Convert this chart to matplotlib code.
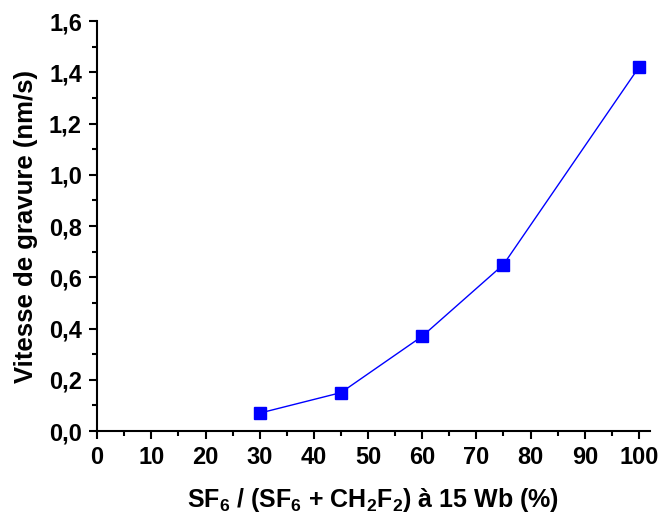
import matplotlib
matplotlib.use("Agg")
import matplotlib.pyplot as plt
from matplotlib.ticker import MultipleLocator, FuncFormatter

plt.rcParams['font.family'] = ['Liberation Sans', 'DejaVu Sans']
plt.rcParams['font.weight'] = 'bold'
plt.rcParams['mathtext.fontset'] = 'custom'
plt.rcParams['mathtext.rm'] = 'Liberation Sans:bold'
plt.rcParams['mathtext.default'] = 'rm'

# --- Donnees ---
sf6_ratio = [30, 45, 60, 75, 100]
vitesse = [0.07, 0.15, 0.37, 0.65, 1.42]

fig = plt.figure(figsize=(6.61, 5.15), dpi=100)
ax = fig.add_axes([0.147, 0.163, 0.836, 0.796])

ax.plot(sf6_ratio, vitesse, color='#0000ff', linewidth=1,
        marker='s', markersize=8.5, markerfacecolor='#0000ff', markeredgecolor='#0000ff')

ax.set_xlim(0, 102)
ax.set_ylim(0, 1.6)
ax.xaxis.set_major_locator(MultipleLocator(10))
ax.xaxis.set_minor_locator(MultipleLocator(5))
ax.yaxis.set_major_locator(MultipleLocator(0.2))
ax.yaxis.set_minor_locator(MultipleLocator(0.1))
ax.yaxis.set_major_formatter(FuncFormatter(lambda v, p: f"{v:.1f}".replace('.', ',')))

for s in ['top', 'right']:
    ax.spines[s].set_visible(False)
for s in ['left', 'bottom']:
    ax.spines[s].set_linewidth(1.5)

ax.tick_params(which='major', direction='out', length=6, width=1.5, labelsize=17, pad=5)
ax.tick_params(which='minor', direction='out', length=3.5, width=1.5)
for lbl in ax.get_xticklabels() + ax.get_yticklabels():
    lbl.set_fontweight('bold')

ax.set_xlabel('SF$_6$ / (SF$_6$ + CH$_2$F$_2$) à 15 Wb (%)', fontsize=18, fontweight='bold', labelpad=12)
ax.set_ylabel('Vitesse de gravure (nm/s)', fontsize=18.5, fontweight='bold', labelpad=8)

fig.savefig('out.png', dpi=100)
